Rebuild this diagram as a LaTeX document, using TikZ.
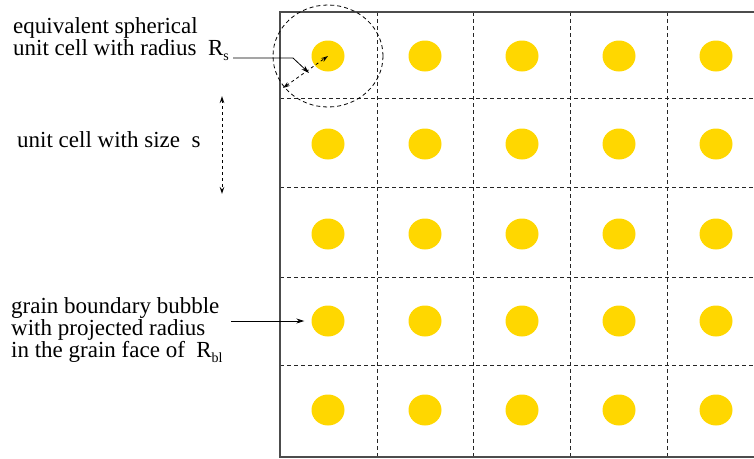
\documentclass[tikz,border=0pt]{standalone}
\usepackage{fontspec}
\setmainfont{Liberation Serif}
\usetikzlibrary{arrows.meta,shapes.geometric}
\definecolor{bubblegold}{HTML}{FFD700}
\tikzset{
  lbl/.style={anchor=base west,inner sep=0pt,font=\fontsize{23}{22}\selectfont},
  bubble/.style={ellipse,fill=bubblegold,draw=none,minimum width=33pt,minimum height=31pt,inner sep=0pt},
  frame/.style={draw=black!70,line width=1.1pt},
  grid/.style={draw=black!85,line width=1pt,dash pattern=on 4pt off 3pt},
  pointer/.style={draw=black,line width=0.8pt,-{Stealth[length=8pt,width=5pt]}},
  dimarrow/.style={draw=black,line width=0.8pt,dash pattern=on 3pt off 3pt,{Stealth[open,length=7pt,width=4.5pt]}-{Stealth[open,length=7pt,width=4.5pt]}},
}
\newcommand{\subR}[1]{R\raisebox{-5pt}{\fontsize{14}{14}\selectfont #1}}
\begin{document}
\begin{tikzpicture}[x=1pt,y=-1pt]
\useasboundingbox (0,0) rectangle (754,458);
% grid
\foreach \x in {377,473,570,667} \draw[grid] (\x,12) -- (\x,457);
\foreach \y in {98,187,277,365} \draw[grid] (280,\y) -- (754,\y);
\draw[frame] (754,12) -- (280,12) -- (280,457) -- (754,457);
% bubbles
\foreach \x [count=\i] in {328,425,522,619,716}
  \foreach \y [count=\j] in {56,144,234,321,410}
    \node[bubble] (b\i\j) at (\x,\y) {};
% equivalent sphere
\node[ellipse,draw=black,line width=0.8pt,dash pattern=on 4pt off 3pt,minimum width=110pt,minimum height=102pt,inner sep=0pt] (sphere) at (328,56) {};
% labels
\node[lbl] (t1) at (13,33) {equivalent spherical};
\node[lbl] (t2) at (13,55) {unit cell with radius \ \subR{s}};
\node[lbl] (t3) at (17,147) {unit cell with size \ s};
\node[lbl] (t4) at (11,313) {grain boundary bubble};
\node[lbl] (t5) at (11,335) {with projected radius};
\node[lbl] (t6) at (11,357) {in the grain face of \ \subR{bl}};
% connectors
\coordinate (rsa) at (233,58);
\coordinate (rsb) at (293,58);
\coordinate (rsc) at (309,73);
\draw[pointer] (rsa) -- (rsb) -- (rsc);
\coordinate (radA) at (283,88);
\draw[dimarrow] (radA) -- (b11.center);
\coordinate (sA) at (222,96);
\coordinate (sB) at (222,194);
\draw[dimarrow] (sA) -- (sB);
\coordinate (gbA) at (231,321);
\draw[pointer,shorten >=7pt] (gbA) -- (b14.west);
\end{tikzpicture}
\end{document}
